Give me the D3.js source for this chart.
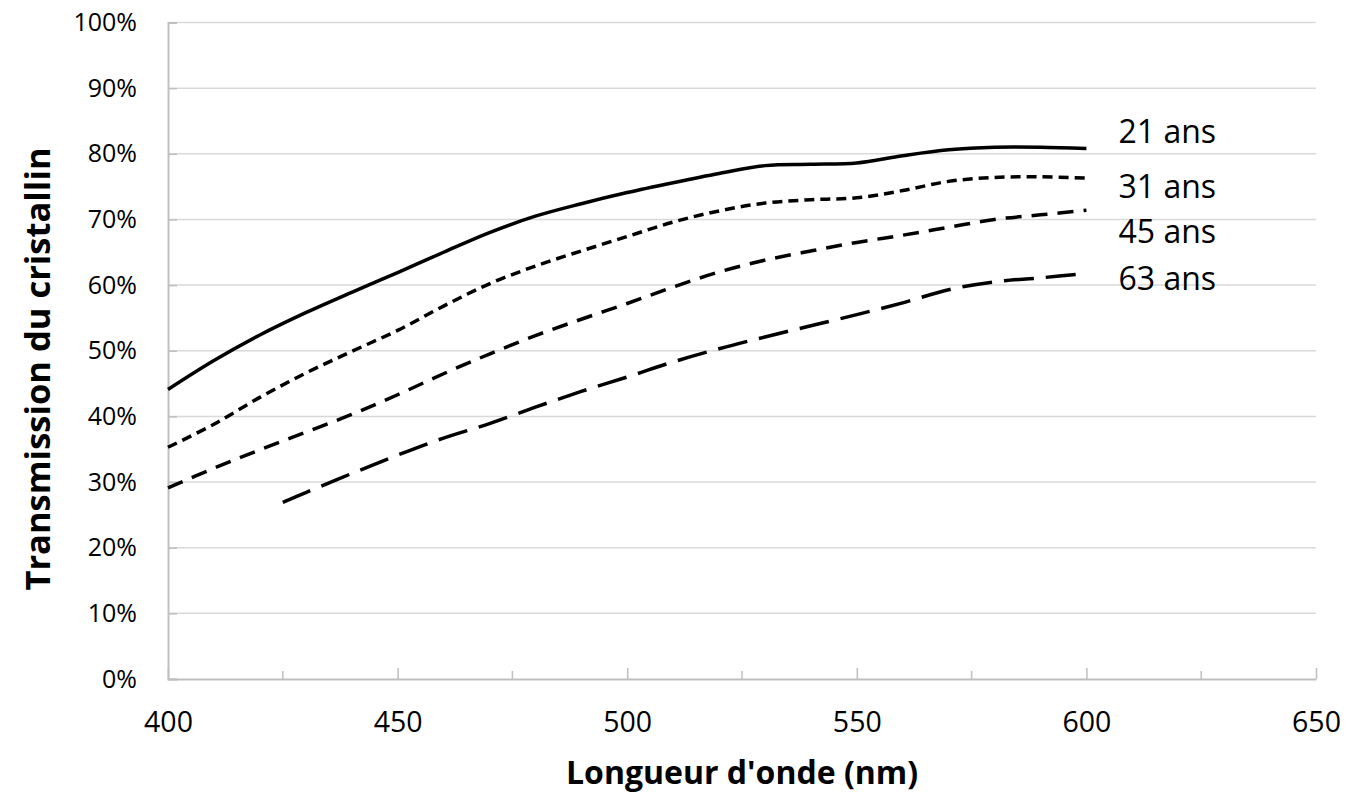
<!DOCTYPE html>
<html>
<head>
<meta charset="utf-8">
<script src="https://cdn.jsdelivr.net/npm/d3@7/dist/d3.min.js"></script>
<style>
  body { margin: 0; background: #fff; }
  svg { display: block; font-family: "Open Sans", "Noto Sans", sans-serif; }
</style>
</head>
<body>
<div id="chart"></div>
<script>
// wavelengths (nm) and lens transmission (%)
const wavelengths = [400, 410, 420, 430, 440, 450, 460, 470, 480, 490, 500, 510, 520, 530, 540, 550, 560, 570, 580, 590, 600];
const t21 = [44.1, 48.5, 52.4, 55.8, 58.9, 61.9, 65.0, 68.0, 70.5, 72.4, 74.1, 75.6, 77.0, 78.2, 78.4, 78.6, 79.7, 80.6, 81.0, 81.0, 80.8];
const t31 = [35.3, 38.8, 42.9, 46.6, 49.9, 53.1, 56.8, 60.2, 62.9, 65.2, 67.4, 69.6, 71.3, 72.5, 73.0, 73.3, 74.4, 75.8, 76.4, 76.5, 76.3];
const t45 = [29.1, 32.1, 34.9, 37.6, 40.3, 43.3, 46.5, 49.5, 52.3, 54.8, 57.2, 59.7, 62.0, 63.8, 65.2, 66.5, 67.6, 68.8, 70.0, 70.7, 71.4];
const wavelengths63 = [425, 430, 440, 450, 460, 470, 480, 490, 500, 510, 520, 530, 540, 550, 560, 570, 580, 590, 600];
const t63 = [26.9, 28.4, 31.3, 34.1, 36.7, 38.9, 41.4, 43.8, 46.0, 48.3, 50.3, 52.1, 53.8, 55.5, 57.3, 59.3, 60.5, 61.1, 61.8];

const seriesNames = ["21 ans", "31 ans", "45 ans", "63 ans"];
const xTicks = [400, 450, 500, 550, 600, 650];
const xMinorTicks = [425, 475, 525, 575, 625];
const yTicks = [0, 10, 20, 30, 40, 50, 60, 70, 80, 90, 100];

const series = [
  { name: seriesNames[0], x: wavelengths, y: t21, dash: null, labelY: 81.7 },
  { name: seriesNames[1], x: wavelengths, y: t31, dash: "10,6", labelY: 73.2 },
  { name: seriesNames[2], x: wavelengths, y: t45, dash: "16,10", labelY: 66.4 },
  { name: seriesNames[3], x: wavelengths63, y: t63, dash: "30,12", labelY: 59.2 }
];

const W = 1348, H = 793;
const margin = { top: 22.5, right: 32, bottom: 114, left: 168 };
const width = W - margin.left - margin.right;
const height = H - margin.top - margin.bottom;

const svg = d3.select("#chart").append("svg")
    .attr("width", W)
    .attr("height", H);
const g = svg.append("g")
    .attr("transform", "translate(" + margin.left + "," + margin.top + ")");

const x = d3.scaleLinear().domain([400, 650]).range([0, width]);
const y = d3.scaleLinear().domain([0, 100]).range([height, 0]);

// horizontal gridlines
g.append("g")
  .selectAll("line")
  .data(yTicks.filter(d => d > 0))
  .enter().append("line")
    .attr("x1", 0).attr("x2", width)
    .attr("y1", d => y(d)).attr("y2", d => y(d))
    .attr("stroke", "#d9d9d9")
    .attr("stroke-width", 1.5);

// y axis
const yAxis = g.append("g")
    .call(d3.axisLeft(y).tickValues(yTicks).tickSize(-9).tickPadding(31)
      .tickFormat(d => d + "%"));
yAxis.select(".domain").attr("stroke", "#bfbfbf").attr("stroke-width", 2);
yAxis.selectAll(".tick line").attr("stroke", "#bfbfbf").attr("stroke-width", 1.5);
yAxis.selectAll(".tick text")
    .attr("font-size", 25)
    .attr("font-family", "Open Sans")
    .attr("fill", "#000");

// x axis: minor ticks
g.append("g")
    .attr("transform", "translate(0," + height + ")")
    .selectAll("line")
    .data(xMinorTicks)
    .enter().append("line")
      .attr("x1", d => x(d)).attr("x2", d => x(d))
      .attr("y1", 0).attr("y2", -8)
      .attr("stroke", "#bfbfbf")
      .attr("stroke-width", 1.5);

const xAxis = g.append("g")
    .attr("transform", "translate(0," + height + ")")
    .call(d3.axisBottom(x).tickValues(xTicks).tickSize(-11).tickPadding(33)
      .tickSizeOuter(0).tickFormat(d3.format("d")));
xAxis.select(".domain").attr("stroke", "#bfbfbf").attr("stroke-width", 2);
xAxis.selectAll(".tick line").attr("stroke", "#bfbfbf").attr("stroke-width", 1.5);
xAxis.selectAll(".tick text")
    .attr("font-size", 28.5)
    .attr("font-family", "Open Sans")
    .attr("fill", "#000")
    .attr("dy", "0.71em");

// curves
const line = d3.line()
    .x(d => x(d[0]))
    .y(d => y(d[1]))
    .curve(d3.curveCatmullRom.alpha(0.5));

series.forEach(s => {
  g.append("path")
    .datum(s.x.map((v, i) => [v, s.y[i]]))
    .attr("fill", "none")
    .attr("stroke", "#000")
    .attr("stroke-width", 3.5)
    .attr("stroke-dasharray", s.dash)
    .attr("d", line);

  g.append("text")
    .attr("x", x(607))
    .attr("y", y(s.labelY))
    .attr("font-size", 32)
    .attr("fill", "#000")
    .text(s.name);
});

// axis titles
svg.append("text")
    .attr("x", margin.left + width / 2)
    .attr("y", 784)
    .attr("text-anchor", "middle")
    .attr("font-size", 32)
    .attr("font-weight", "bold")
    .text("Longueur d'onde (nm)");

svg.append("text")
    .attr("transform", "translate(50,369) rotate(-90)")
    .attr("text-anchor", "middle")
    .attr("font-size", 34.5)
    .attr("font-weight", "bold")
    .text("Transmission du cristallin");
</script>
</body>
</html>
